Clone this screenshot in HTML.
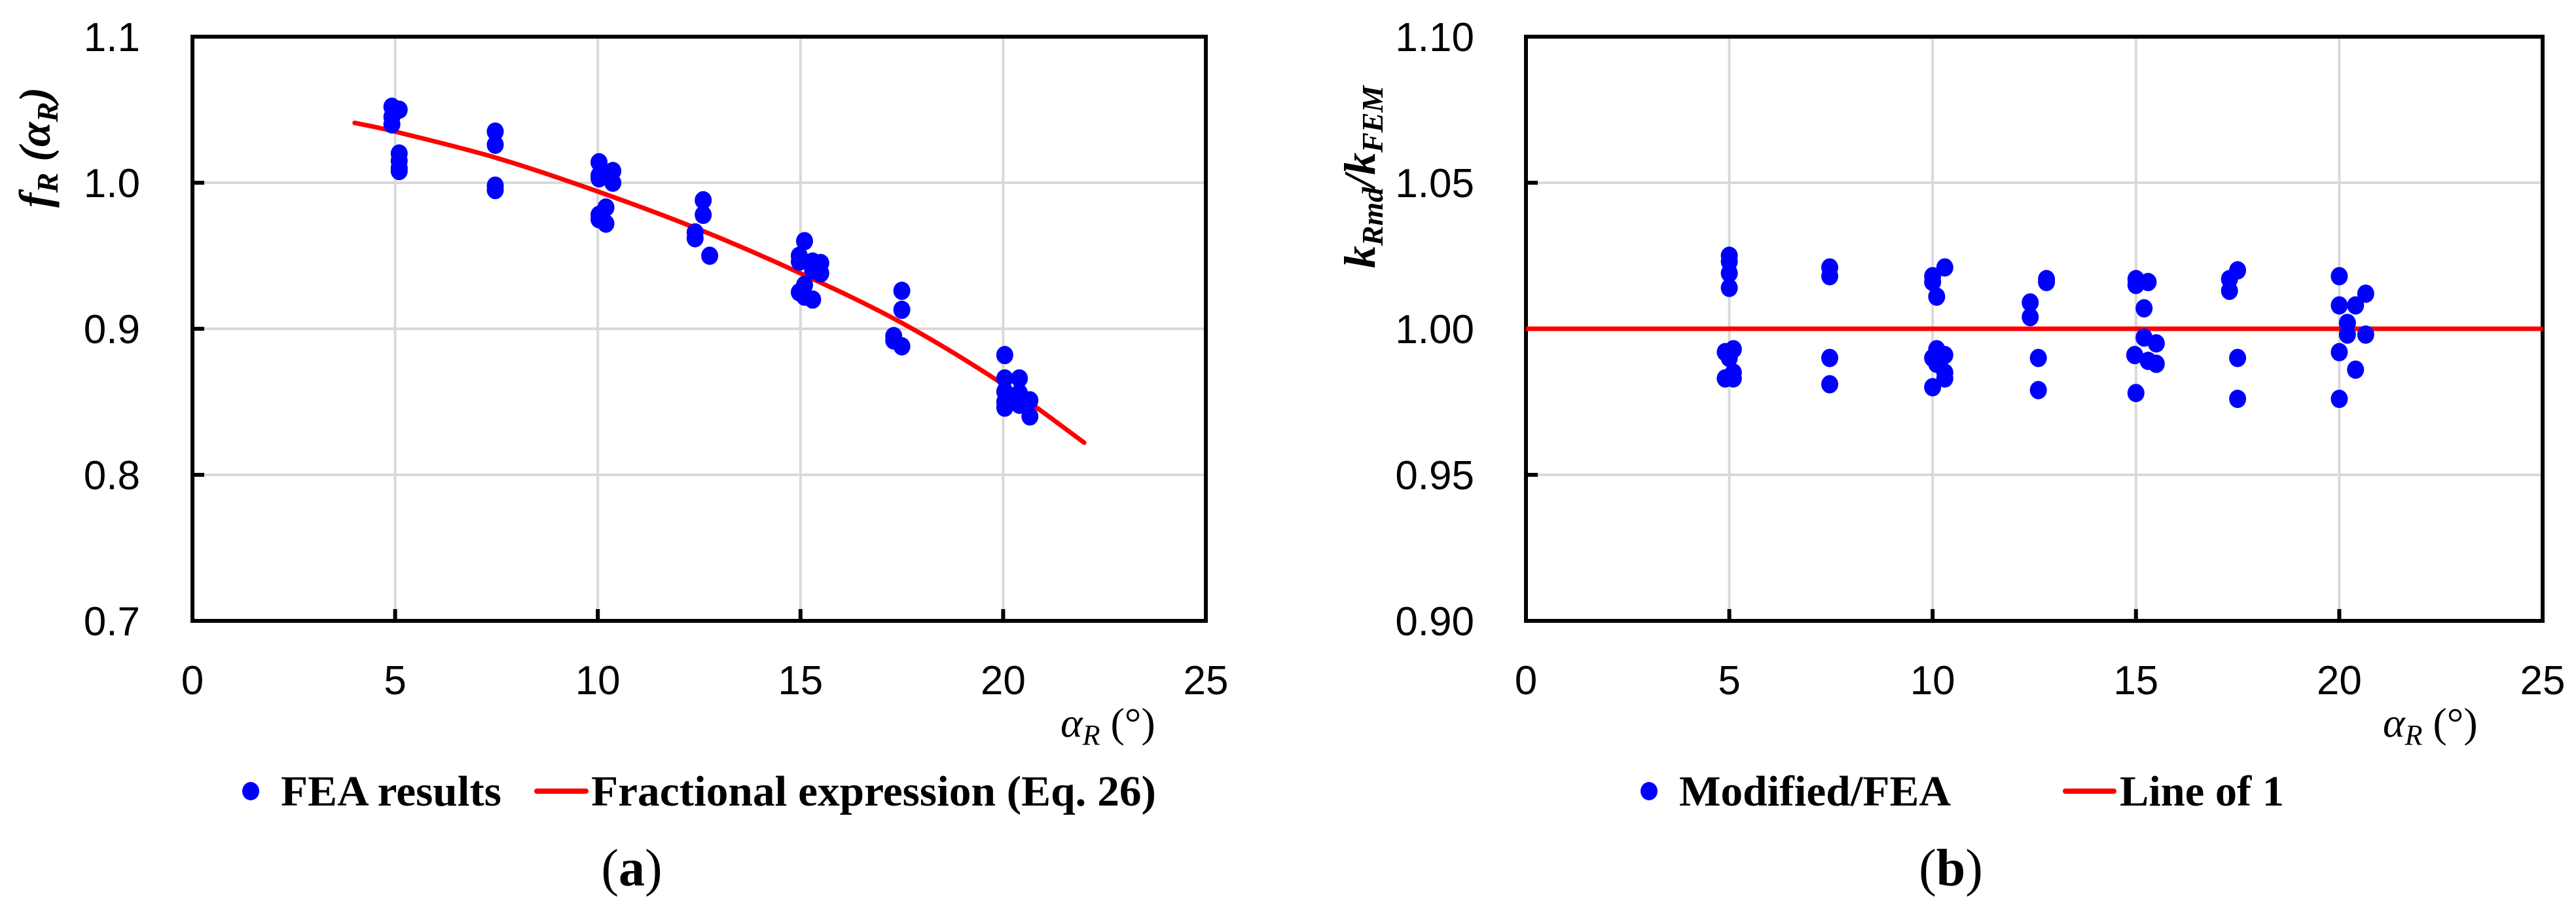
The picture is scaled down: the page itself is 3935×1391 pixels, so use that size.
<!DOCTYPE html>
<html><head><meta charset="utf-8"><style>
html,body{margin:0;padding:0;background:#fff;}
svg{display:block;}
.tick{font-family:"Liberation Sans Narrow","Liberation Sans",sans-serif;font-size:62px;fill:#000;}
.ser{font-family:"Liberation Serif",serif;fill:#000;}
</style></head><body>
<svg id="fig" width="3935" height="1391" viewBox="0 0 3935 1391" xmlns="http://www.w3.org/2000/svg">
<g id="pa"></g>
<g id="pb"></g>
</svg>
<script>
// Panel (a) data
const aPtsX = [4.92,4.92,4.92,5.1,5.1,5.1,5.1,5.1, 7.47,7.47,7.47,7.47, 10.03,10.03,10.03,10.03,10.03,10.2,10.2, 10.37,10.37, 12.4,12.4,12.6,12.6,12.76, 14.97,14.97,14.97,15.1,15.1,15.1, 15.3,15.3,15.3,15.5,15.5, 17.3,17.3,17.5,17.5,17.5, 20.04,20.04,20.04,20.04,20.04, 20.4,20.4,20.4,20.66,20.66];
const aPtsY = [1.052,1.045,1.040,1.050,1.020,1.015,1.010,1.008, 1.035,1.026,0.998,0.995, 1.014,1.005,1.003,0.978,0.975,0.983,0.972, 1.008,1.000, 0.966,0.962,0.988,0.978,0.950, 0.950,0.946,0.925,0.960,0.930,0.922, 0.946,0.940,0.920,0.945,0.938, 0.895,0.892,0.926,0.913,0.888, 0.882,0.866,0.857,0.850,0.846, 0.866,0.856,0.848,0.851,0.840];
const aCurveX = [4,5,7.5,10,12.5,15,17.5,20,22];
const aCurveY = [1.041,1.035,1.017,0.994,0.968,0.938,0.904,0.862,0.822];
const aYTicks = ["0.7","0.8","0.9","1.0","1.1"];
const aYVals = [0.7,0.8,0.9,1.0,1.1];
// Panel (b) data
const bPtsX = [5.0,5.0,5.0,5.0,4.9,5.0,5.1,5.1,4.9,5.1, 7.47,7.47,7.47,7.47, 10.0,10.0,10.1,10.1,10.0,10.1,10.0, 10.3,10.3,10.3,10.3, 12.4,12.4,12.6,12.6,12.8,12.8, 15.0,15.0,14.97,15.0, 15.2,15.2,15.3,15.3,15.5,15.5, 17.3,17.3,17.5,17.5,17.5, 20.0,20.0,20.0,20.0, 20.2,20.2,20.4,20.4,20.65,20.65];
const bPtsY = [1.025,1.023,1.019,1.014,0.992,0.990,0.993,0.985,0.983,0.983, 1.021,1.018,0.990,0.981, 1.018,1.016,1.011,0.993,0.990,0.988,0.980, 1.021,0.991,0.985,0.983, 1.009,1.004,0.990,0.979,1.017,1.016, 1.017,1.015,0.991,0.978, 1.007,0.997,1.016,0.989,0.995,0.988, 1.017,1.013,1.020,0.990,0.976, 1.018,1.008,0.992,0.976, 1.002,0.998,1.008,0.986,1.012,0.998];
const bLineX = [0,25];
const bLineY = [1.0,1.0];
const bYTicks = ["0.90","0.95","1.00","1.05","1.10"];
const bYVals = [0.90,0.95,1.00,1.05,1.10];
const xTicks = ["0","5","10","15","20","25"];
const xVals = [0,5,10,15,20,25];

const NS="http://www.w3.org/2000/svg";
function mk(parent,tag,attrs,text){const e=document.createElementNS(NS,tag);for(const k in attrs)e.setAttribute(k,attrs[k]);if(text!==undefined)e.textContent=text;parent.appendChild(e);return e;}

function panel(g,L,R,T,B,ymin,ymax,yTickVals,yTickLabels,tickLabelX){
  const sx=v=>L+(v-0)/(25-0)*(R-L);
  const sy=v=>B-(v-ymin)/(ymax-ymin)*(B-T);
  const grid=mk(g,'g',{});
  
  
  xVals.forEach((v,i)=>{
    if(i>0&&i<xVals.length-1){const l=mk(grid,'line',{x1:sx(v),x2:sx(v),y1:T,y2:B,stroke:'#d9d9d9','stroke-width':4});
      }
    const tk=mk(g,'line',{x1:sx(v),x2:sx(v),y1:B-18,y2:B,stroke:'#000','stroke-width':6});
    
    const t=mk(g,'text',{x:sx(v),y:B+112,'text-anchor':'middle',class:'tick'},xTicks[i]);
    
  });
  yTickVals.forEach((v,i)=>{
    if(i>0&&i<yTickVals.length-1){const l=mk(grid,'line',{x1:L,x2:R,y1:sy(v),y2:sy(v),stroke:'#d9d9d9','stroke-width':4});
      }
    const tk=mk(g,'line',{x1:L,x2:L+18,y1:sy(v),y2:sy(v),stroke:'#000','stroke-width':6});
    
    const t=mk(g,'text',{x:tickLabelX,y:sy(v)+22,'text-anchor':'end',class:'tick'},yTickLabels[i]);
    
  });
  const fr=mk(g,'rect',{x:L,y:T,width:R-L,height:B-T,fill:'none',stroke:'#000','stroke-width':6});
  
  return {sx,sy};
}

// Panel A
const ga=document.getElementById('pa');
const A=panel(ga,294,1842,56,948,0.7,1.1,aYVals,aYTicks,214);
const P=aCurveX.map((x,i)=>[A.sx(x),A.sy(aCurveY[i])]);
let d='M'+P[0][0].toFixed(1)+' '+P[0][1].toFixed(1);
for(let i=0;i<P.length-1;i++){
  const p0=P[Math.max(0,i-1)],p1=P[i],p2=P[i+1],p3=P[Math.min(P.length-1,i+2)];
  const c1=[p1[0]+(p2[0]-p0[0])/6,p1[1]+(p2[1]-p0[1])/6];
  const c2=[p2[0]-(p3[0]-p1[0])/6,p2[1]-(p3[1]-p1[1])/6];
  d+='C'+c1[0].toFixed(1)+' '+c1[1].toFixed(1)+' '+c2[0].toFixed(1)+' '+c2[1].toFixed(1)+' '+p2[0].toFixed(1)+' '+p2[1].toFixed(1);
}
const ca=mk(ga,'path',{d:d,fill:'none',stroke:'#ff0000','stroke-width':7,'stroke-linecap':'round'});


aPtsX.forEach((x,i)=>{
  const c=mk(ga,'ellipse',{cx:A.sx(x),cy:A.sy(aPtsY[i]),rx:13,ry:14,fill:'#0000ff'});
  
  
});

// Panel B
const gb=document.getElementById('pb');
const Bp=panel(gb,2331,3884,56,948,0.90,1.10,bYVals,bYTicks,2252);
const lb=mk(gb,'line',{x1:Bp.sx(bLineX[0]),x2:Bp.sx(bLineX[1]),y1:Bp.sy(bLineY[0]),y2:Bp.sy(bLineY[1]),stroke:'#ff0000','stroke-width':7});


bPtsX.forEach((x,i)=>{
  const c=mk(gb,'ellipse',{cx:Bp.sx(x),cy:Bp.sy(bPtsY[i]),rx:13,ry:14,fill:'#0000ff'});
  
  
});
</script>
<svg width="3935" height="1391" viewBox="0 0 3935 1391" style="position:absolute;left:0;top:0">
  <text class="ser" transform="translate(76,225) rotate(-90)" text-anchor="middle" font-size="68" font-weight="bold" font-style="italic">f<tspan font-size="46" dy="12">R</tspan><tspan dy="-12"> (α</tspan><tspan font-size="46" dy="12">R</tspan><tspan dy="-12">)</tspan></text>
  <text class="ser" x="1620" y="1125" font-size="64" font-style="italic">α<tspan font-size="44" dy="12">R</tspan><tspan dy="-12" font-style="normal"> (°)</tspan></text>
  <ellipse cx="383" cy="1208" rx="13" ry="14" fill="#0000ff"/>
  <text class="ser" x="429" y="1230" font-size="66" font-weight="bold" textLength="337" lengthAdjust="spacingAndGlyphs">FEA results</text>
  <line x1="820" y1="1208" x2="895" y2="1208" stroke="#ff0000" stroke-width="8" stroke-linecap="round"/>
  <text class="ser" x="903" y="1230" font-size="66" font-weight="bold" textLength="863" lengthAdjust="spacingAndGlyphs">Fractional expression (Eq. 26)</text>
  <text class="ser" x="965" y="1352" text-anchor="middle" font-size="80">(<tspan font-weight="bold">a</tspan>)</text>

  <text class="ser" transform="translate(2100,270) rotate(-90)" text-anchor="middle" font-size="68" font-weight="bold" font-style="italic">k<tspan font-size="46" dy="12">Rmd</tspan><tspan dy="-12">/k</tspan><tspan font-size="46" dy="12">FEM</tspan></text>
  <text class="ser" x="3640" y="1125" font-size="64" font-style="italic">α<tspan font-size="44" dy="12">R</tspan><tspan dy="-12" font-style="normal"> (°)</tspan></text>
  <ellipse cx="2519" cy="1208" rx="13" ry="14" fill="#0000ff"/>
  <text class="ser" x="2565" y="1230" font-size="66" font-weight="bold" textLength="415" lengthAdjust="spacingAndGlyphs">Modified/FEA</text>
  <line x1="3155" y1="1208" x2="3229" y2="1208" stroke="#ff0000" stroke-width="8" stroke-linecap="round"/>
  <text class="ser" x="3238" y="1230" font-size="66" font-weight="bold" textLength="251" lengthAdjust="spacingAndGlyphs">Line of 1</text>
  <text class="ser" x="2980" y="1352" text-anchor="middle" font-size="80">(<tspan font-weight="bold">b</tspan>)</text>
</svg>
</body></html>
